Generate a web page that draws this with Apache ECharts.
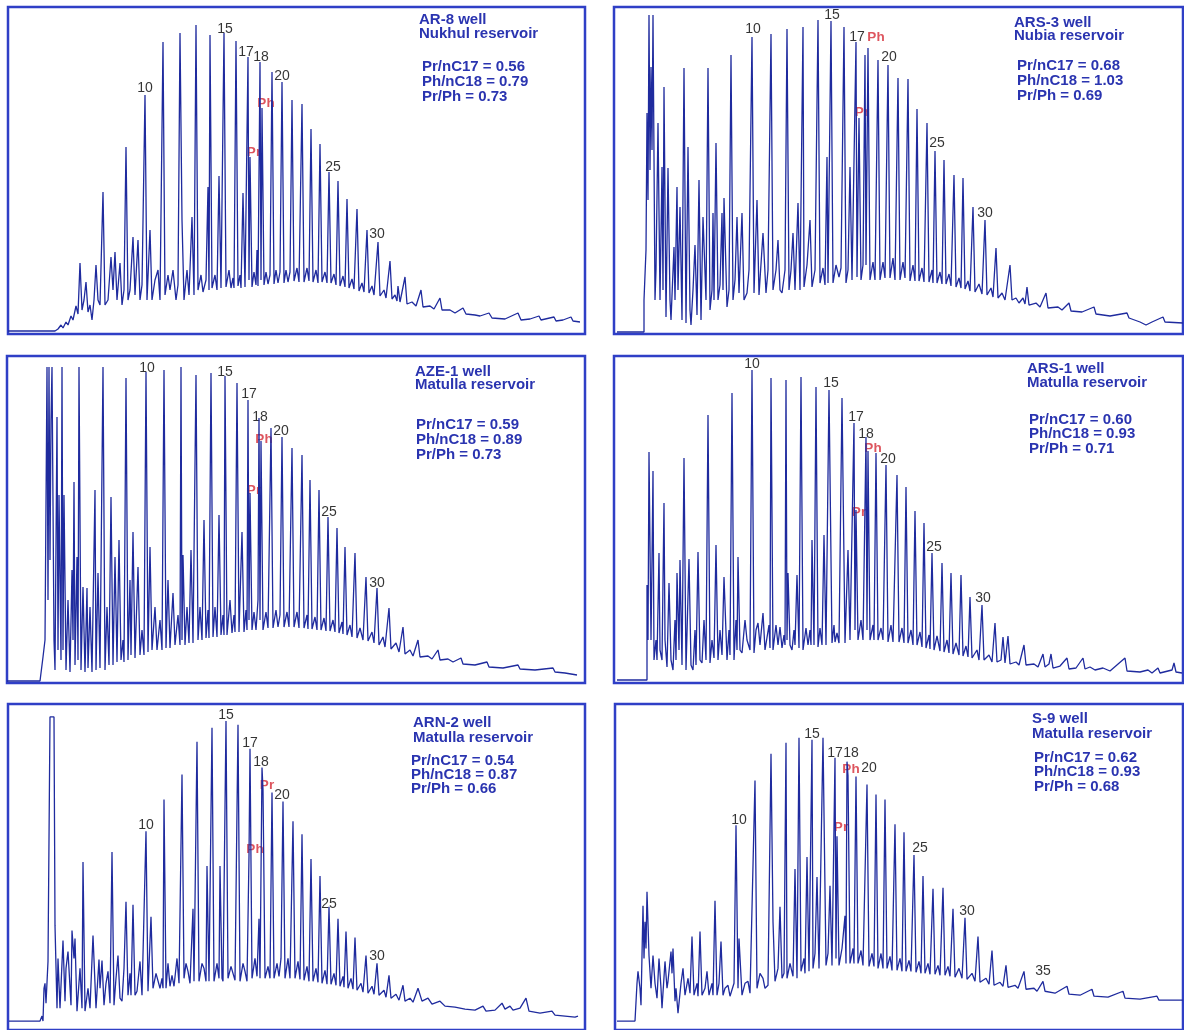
<!DOCTYPE html>
<html>
<head>
<meta charset="utf-8">
<script src="https://cdn.jsdelivr.net/npm/echarts@6/dist/echarts.min.js"></script>
<style>
html,body{margin:0;padding:0;background:#fff;}
#chart{width:1184px;height:1030px;}
</style>
</head>
<body>
<div id="chart"></div>
<script>
// Chromatogram traces: [retention (scaled units), detector response (scaled units)]
const ar8Trace = [[0,3],[47,3],[50,5],[53,9],[55,6],[58,12],[60,9],[63,18],[65,14],[68,28],[70,20],[72,71],[74,24],[76,34],[78,52],[80,22],[82,29],[84,14],[86,34],[88,69],[90,34],[92,29],[95,142],[97,29],[100,34],[103,77],[105,44],[107,82],[109,34],[112,71],[114,29],[116,44],[118,187],[120,34],[122,44],[125,97],[127,39],[130,94],[132,34],[134,49],[137,239],[139,34],[142,104],[144,34],[147,54],[150,64],[152,34],[155,292],[157,39],[160,59],[162,44],[165,64],[168,34],[170,49],[172,301],[174,114],[176,34],[179,64],[181,39],[184,117],[186,39],[188,309],[190,44],[193,59],[195,42],[198,54],[200,147],[201,44],[202,299],[204,46],[207,59],[209,44],[211,158],[213,46],[216,301],[218,47],[221,64],[223,46],[225,56],[226,46],[228,293],[230,48],[232,59],[233,46],[235,141],[237,47],[240,277],[241,54],[242,177],[244,47],[246,62],[248,49],[249,84],[250,48],[252,272],[253,54],[254,226],[256,49],[258,62],[260,50],[262,59],[264,262],[266,50],[268,64],[270,51],[272,62],[274,252],[276,51],[278,64],[280,52],[282,62],[284,234],[286,53],[289,66],[291,52],[294,230],[296,52],[299,66],[301,53],[303,205],[305,52],[308,64],[310,51],[312,190],[314,52],[317,62],[319,51],[321,162],[323,51],[326,60],[328,49],[330,153],[332,48],[335,58],[337,47],[339,135],[341,46],[344,55],[346,45],[349,125],[351,43],[354,51],[356,42],[359,104],[361,41],[364,48],[366,39],[370,92],[372,38],[376,44],[378,36],[382,73],[384,35],[387,39],[389,33],[390,48],[392,32],[397,57],[399,30],[404,32],[408,28],[413,44],[415,27],[422,28],[426,25],[432,36],[434,24],[442,24],[447,21],[455,26],[458,20],[467,19],[472,18],[481,21],[484,16],[497,15],[510,21],[513,14],[522,15],[531,18],[533,14],[546,17],[548,13],[555,14],[563,17],[565,13],[572,12]];

const ars3Trace = [[3,2],[30,2],[30,34],[32,84],[33,221],[34,134],[35,319],[36,164],[37,267],[38,184],[39,319],[41,34],[42,64],[44,211],[46,34],[48,167],[49,44],[50,247],[52,17],[54,166],[56,34],[57,14],[60,87],[61,34],[63,147],[64,44],[66,127],[68,14],[70,266],[72,11],[74,187],[76,24],[77,9],[79,44],[81,89],[83,19],[85,154],[87,14],[89,117],[92,34],[94,266],[96,24],[98,44],[99,121],[100,34],[102,191],[104,34],[106,49],[108,121],[109,44],[110,136],[113,27],[115,44],[117,279],[119,34],[121,54],[123,117],[125,41],[128,121],[130,34],[133,41],[135,64],[138,297],[140,41],[143,134],[145,39],[146,37],[149,101],[152,41],[154,64],[157,300],[159,44],[162,64],[164,94],[166,44],[168,41],[171,64],[173,305],[175,44],[177,64],[179,101],[181,44],[184,131],[186,44],[189,307],[190,47],[193,69],[196,114],[198,47],[201,64],[204,314],[206,51],[209,66],[211,49],[213,177],[214,51],[217,313],[219,51],[222,69],[225,57],[227,66],[230,307],[232,51],[234,64],[236,167],[238,54],[242,292],[243,57],[245,216],[247,54],[249,69],[251,279],[252,69],[254,286],[256,54],[259,72],[261,54],[264,274],[266,54],[269,72],[271,56],[274,269],[276,56],[279,76],[281,54],[284,256],[286,54],[289,72],[291,56],[294,255],[296,53],[299,69],[301,53],[303,225],[305,53],[308,66],[310,52],[313,211],[315,52],[318,64],[319,51],[321,183],[323,51],[326,62],[328,50],[330,174],[332,50],[335,60],[337,48],[340,159],[342,47],[345,56],[347,46],[349,156],[351,45],[354,53],[356,43],[359,127],[361,42],[365,50],[368,40],[371,114],[373,39],[377,46],[379,37],[382,86],[384,36],[388,41],[391,34],[396,69],[398,34],[402,36],[405,31],[409,36],[411,30],[413,47],[415,29],[422,31],[426,27],[432,41],[434,26],[444,27],[448,24],[455,31],[457,23],[468,22],[480,27],[482,20],[496,18],[513,21],[515,16],[526,12],[532,9],[538,12],[549,17],[551,12],[569,11]];

const aze1Trace = [[0,2],[33,2],[36,26],[38,43],[40,316],[41,83],[42,316],[43,123],[44,263],[45,316],[47,43],[48,13],[50,266],[51,33],[52,188],[54,23],[55,316],[56,33],[57,188],[59,13],[61,83],[63,11],[65,113],[66,43],[67,201],[68,18],[70,126],[71,23],[72,316],[74,13],[76,96],[78,11],[80,95],[81,15],[83,76],[85,11],[88,193],[89,13],[91,110],[93,15],[96,316],[98,13],[100,76],[102,18],[104,186],[106,18],[108,126],[110,21],[112,143],[114,23],[116,43],[117,21],[119,305],[121,23],[123,103],[124,28],[126,151],[128,25],[131,116],[133,28],[135,53],[137,28],[139,311],[141,31],[143,136],[145,33],[148,76],[150,33],[153,63],[155,33],[157,313],[159,35],[161,103],[163,35],[166,90],[168,38],[171,68],[173,38],[174,316],[175,43],[176,128],[178,38],[180,76],[182,40],[184,133],[186,40],[189,308],[191,43],[193,76],[195,43],[197,163],[199,45],[201,73],[202,45],[204,310],[206,46],[208,76],[210,46],[212,168],[214,48],[216,68],[217,48],[218,307],[220,48],[223,83],[225,50],[227,68],[228,51],[230,300],[232,51],[235,151],[237,51],[239,73],[240,53],[241,283],[242,63],[243,190],[245,53],[247,71],[249,53],[251,83],[252,265],[253,63],[254,242],[256,53],[259,71],[261,55],[264,255],[266,55],[269,73],[271,56],[273,68],[275,246],[277,56],[280,71],[282,56],[285,235],[287,56],[290,71],[292,55],[295,228],[297,55],[300,68],[301,54],[303,203],[305,54],[308,66],[310,53],[312,193],[314,53],[317,65],[319,52],[321,166],[323,52],[326,63],[328,51],[330,155],[332,50],[335,61],[336,49],[338,136],[340,48],[343,58],[345,46],[348,130],[350,45],[353,55],[356,43],[359,106],[361,42],[365,51],[367,40],[370,95],[372,38],[376,46],[378,36],[382,75],[384,34],[389,40],[392,31],[396,56],[398,29],[403,33],[406,27],[411,43],[413,26],[421,27],[425,24],[431,33],[433,23],[441,24],[446,21],[454,25],[456,19],[468,18],[480,21],[482,16],[496,15],[511,18],[513,14],[528,13],[546,15],[548,11],[558,10],[570,8]];

const ars1Trace = [[3,3],[33,3],[33,98],[34,43],[35,231],[37,43],[38,123],[39,212],[40,23],[42,43],[43,23],[45,130],[46,33],[48,23],[50,180],[51,43],[53,16],[55,100],[57,23],[59,13],[61,63],[62,23],[63,110],[65,33],[66,123],[68,18],[70,225],[72,13],[75,124],[77,18],[79,13],[81,53],[82,18],[84,131],[86,23],[88,20],[90,63],[92,23],[94,268],[96,20],[98,43],[100,25],[102,138],[104,23],[106,53],[108,28],[110,106],[113,23],[115,53],[116,28],[118,290],[120,23],[122,63],[123,33],[124,126],[126,33],[128,30],[131,63],[133,43],[136,33],[138,313],[140,30],[142,53],[144,60],[146,38],[149,70],[151,33],[153,33],[155,58],[156,35],[157,305],[159,33],[162,58],[164,38],[166,56],[168,35],[170,48],[171,38],[172,303],[173,43],[174,110],[176,38],[178,33],[180,53],[181,38],[183,108],[185,35],[187,306],[189,33],[192,55],[194,38],[196,53],[197,38],[198,143],[200,38],[202,296],[204,36],[206,55],[208,38],[210,148],[212,38],[215,293],[218,40],[220,58],[221,41],[223,50],[225,40],[228,285],[231,40],[234,133],[236,43],[237,43],[240,260],[241,53],[242,173],[244,43],[247,63],[249,43],[252,246],[253,53],[254,232],[256,43],[259,58],[260,43],[262,230],[264,43],[267,55],[269,43],[272,218],[274,41],[277,58],[279,41],[283,208],[285,41],[288,55],[290,40],[292,196],[294,40],[297,53],[299,38],[301,172],[303,38],[306,51],[308,36],[310,160],[312,35],[315,48],[316,34],[318,130],[320,33],[323,47],[326,32],[328,120],[330,31],[333,43],[335,30],[337,110],[339,29],[342,40],[345,28],[347,108],[349,27],[352,37],[354,26],[356,86],[358,25],[363,33],[365,23],[368,78],[370,23],[375,28],[378,21],[381,60],[383,21],[387,23],[389,46],[391,20],[394,47],[396,19],[402,21],[405,18],[410,38],[412,18],[420,19],[424,16],[429,29],[431,16],[435,19],[437,29],[439,15],[446,17],[453,25],[455,14],[462,15],[469,25],[471,14],[476,16],[481,13],[489,15],[496,12],[511,25],[513,12],[526,11],[534,13],[538,10],[544,15],[546,10],[558,13],[560,20],[562,11],[568,10]];

const arn2Trace = [[1,9],[32,9],[33,11],[34,14],[35,9],[36,42],[37,47],[38,27],[40,69],[42,315],[46,315],[47,105],[49,22],[50,72],[52,22],[55,90],[57,29],[58,62],[60,79],[63,25],[64,100],[66,72],[67,92],[69,19],[72,62],[74,22],[75,169],[77,19],[80,42],[82,22],[85,95],[88,22],[91,71],[92,42],[94,70],[96,25],[98,47],[100,59],[102,27],[104,179],[106,25],[108,52],[110,75],[112,32],[114,29],[116,62],[118,129],[120,35],[122,57],[123,35],[125,126],[127,35],[129,39],[132,69],[134,35],[135,35],[138,200],[140,39],[143,114],[145,42],[148,57],[150,59],[152,42],[154,52],[155,42],[156,232],[158,42],[160,67],[162,44],[164,55],[166,44],[169,72],[171,47],[174,257],[176,52],[178,67],[180,59],[182,47],[185,122],[186,49],[189,290],[191,49],[194,67],[196,62],[198,49],[199,165],[201,49],[204,304],[206,49],[209,67],[211,52],[212,165],[214,52],[215,49],[218,311],[220,52],[223,64],[225,62],[227,50],[230,307],[232,49],[235,67],[237,59],[239,49],[241,175],[242,283],[244,52],[247,72],[249,54],[251,112],[252,52],[254,264],[255,242],[257,52],[260,64],[262,52],[264,239],[266,52],[269,67],[271,54],[273,72],[275,230],[277,52],[280,72],[282,52],[285,210],[287,52],[290,69],[292,51],[294,197],[296,50],[299,64],[301,49],[303,172],[305,49],[308,62],[310,48],[312,155],[314,47],[317,60],[319,46],[321,124],[323,46],[326,57],[328,45],[330,112],[332,44],[335,54],[336,43],[338,99],[340,42],[343,52],[345,41],[347,93],[349,40],[353,47],[355,38],[358,75],[360,37],[364,44],[366,36],[369,67],[371,35],[376,40],[378,33],[381,55],[383,32],[388,36],[391,30],[395,45],[397,29],[402,32],[405,28],[410,42],[412,42],[414,29],[420,32],[424,26],[432,29],[437,24],[447,23],[457,21],[467,20],[475,24],[478,19],[487,20],[494,27],[497,21],[502,24],[505,20],[512,22],[518,32],[521,19],[532,17],[544,19],[547,15],[557,14],[567,13],[570,14]];

const s9Trace = [[2,9],[20,9],[22,47],[23,59],[25,42],[26,25],[28,125],[29,72],[30,109],[31,82],[32,139],[34,75],[36,42],[38,75],[40,47],[42,32],[44,72],[46,42],[47,22],[50,69],[52,42],[53,49],[56,79],[57,57],[58,82],[60,29],[61,42],[63,17],[66,47],[68,62],[70,35],[73,52],[75,37],[77,94],[79,35],[82,47],[83,34],[85,99],[87,35],[90,42],[92,59],[94,35],[97,47],[98,35],[100,130],[102,35],[104,47],[106,89],[108,35],[110,42],[113,45],[115,34],[117,32],[119,47],[121,206],[123,42],[124,92],[127,35],[130,47],[133,49],[135,37],[137,39],[140,251],[142,42],[145,57],[148,52],[150,42],[153,45],[156,278],[158,109],[160,49],[163,62],[165,124],[167,52],[169,57],[171,289],[172,52],[175,67],[178,54],[180,162],[182,52],[184,294],[186,59],[189,72],[190,57],[192,174],[194,59],[197,292],[198,62],[200,77],[202,154],[204,62],[208,294],[211,65],[213,77],[215,145],[217,65],[220,274],[221,72],[222,195],[224,65],[227,82],[230,115],[231,67],[232,270],[233,256],[235,67],[238,82],[239,67],[241,255],[243,67],[246,80],[248,65],[252,247],[254,64],[257,77],[259,64],[261,237],[263,62],[266,77],[268,62],[270,232],[272,62],[275,74],[277,60],[280,207],[282,60],[285,72],[287,59],[289,199],[291,59],[294,70],[296,59],[299,176],[301,58],[304,69],[306,57],[308,155],[310,57],[313,67],[315,56],[318,142],[320,56],[323,65],[325,55],[328,143],[330,55],[333,64],[335,54],[338,122],[340,53],[344,62],[347,52],[350,113],[352,51],[357,57],[360,49],[363,94],[365,48],[371,52],[374,46],[377,80],[379,45],[385,48],[388,44],[391,65],[393,43],[400,45],[403,42],[409,59],[411,41],[419,42],[422,39],[428,49],[430,39],[440,37],[452,44],[454,36],[465,35],[477,41],[479,34],[493,33],[508,39],[510,32],[525,31],[542,34],[544,30],[568,30]];

// Peak labels: [text, retention, response]
const ar8Carbon = [['10',137,246],['15',217,305],['17',238,282],['18',253,277],['20',274,258],['25',325,167],['30',369,100]];
const ar8Iso = [['Pr',246,182],['Ph',258,231]];
const ars3Carbon = [['10',139,305],['15',218,319],['17',243,297],['20',275,277],['25',323,191],['30',371,121]];
const ars3Iso = [['Ph',262,297],['Pr',248,222]];
const aze1Carbon = [['10',140,315],['15',218,311],['17',242,289],['18',253,266],['20',274,252],['25',322,171],['30',370,100]];
const aze1Iso = [['Ph',257,244],['Pr',247,193]];
const ars1Carbon = [['10',138,319],['15',217,300],['17',242,266],['18',252,249],['20',274,224],['25',320,136],['30',369,85]];
const ars1Iso = [['Ph',259,235],['Pr',245,171]];
const arn2Carbon = [['10',138,206],['15',218,317],['17',242,289],['18',253,270],['20',274,236],['25',321,127],['30',369,74]];
const arn2Iso = [['Pr',259,246],['Ph',247,182]];
const s9Carbon = [['10',124,211],['15',197,298],['17',220,279],['18',236,279],['20',254,263],['25',305,183],['30',352,120],['35',428,59]];
const s9Iso = [['Ph',236,262],['Pr',226,204]];

// Annotation text
const ar8Info = ['AR-8 well','Nukhul reservoir'];
const ar8Ratios = ['Pr/nC17 = 0.56','Ph/nC18 = 0.79','Pr/Ph = 0.73'];
const ars3Info = ['ARS-3 well','Nubia reservoir'];
const ars3Ratios = ['Pr/nC17 = 0.68','Ph/nC18 = 1.03','Pr/Ph = 0.69'];
const aze1Info = ['AZE-1 well','Matulla reservoir'];
const aze1Ratios = ['Pr/nC17 = 0.59','Ph/nC18 = 0.89','Pr/Ph = 0.73'];
const ars1Info = ['ARS-1 well','Matulla reservoir'];
const ars1Ratios = ['Pr/nC17 = 0.60','Ph/nC18 = 0.93','Pr/Ph = 0.71'];
const arn2Info = ['ARN-2 well','Matulla reservoir'];
const arn2Ratios = ['Pr/nC17 = 0.54','Ph/nC18 = 0.87','Pr/Ph = 0.66'];
const s9Info = ['S-9 well','Matulla reservoir'];
const s9Ratios = ['Pr/nC17 = 0.62','Ph/nC18 = 0.93','Pr/Ph = 0.68'];

const panels = [
  {trace: ar8Trace, carbon: ar8Carbon, iso: ar8Iso, info: ar8Info, ratios: ar8Ratios,
   box: [8, 7, 577, 327], infoAt: [419, 12, 14], ratioAt: [422, 59, 15]},
  {trace: ars3Trace, carbon: ars3Carbon, iso: ars3Iso, info: ars3Info, ratios: ars3Ratios,
   box: [614, 7, 569, 327], infoAt: [1014, 15, 13.5], ratioAt: [1017, 58, 15]},
  {trace: aze1Trace, carbon: aze1Carbon, iso: aze1Iso, info: aze1Info, ratios: aze1Ratios,
   box: [7, 356, 578, 327], infoAt: [415, 364, 13], ratioAt: [416, 417, 15]},
  {trace: ars1Trace, carbon: ars1Carbon, iso: ars1Iso, info: ars1Info, ratios: ars1Ratios,
   box: [614, 356, 569, 327], infoAt: [1027, 361, 14], ratioAt: [1029, 412, 14.5]},
  {trace: arn2Trace, carbon: arn2Carbon, iso: arn2Iso, info: arn2Info, ratios: arn2Ratios,
   box: [8, 704, 577, 328], infoAt: [413, 715, 15.5], ratioAt: [411, 753, 14]},
  {trace: s9Trace, carbon: s9Carbon, iso: s9Iso, info: s9Info, ratios: s9Ratios,
   box: [615, 704, 568, 328], infoAt: [1032, 711, 15], ratioAt: [1034, 750, 14.5]}
];

const FONT = 'Arial, "Liberation Sans", sans-serif';
const BLUE_TEXT = '#2a34b0';
const option = {
  backgroundColor: '#ffffff',
  animation: false,
  grid: [], xAxis: [], yAxis: [], series: [], graphic: []
};

panels.forEach((p, i) => {
  const [l, t, w, h] = p.box;
  option.grid.push({left: l, top: t, width: w, height: h, show: true,
    borderColor: '#2f3fc6', borderWidth: 2.5, backgroundColor: 'transparent'});
  option.xAxis.push({type: 'value', gridIndex: i, min: 0, max: w, show: false});
  option.yAxis.push({type: 'value', gridIndex: i, min: 0, max: h, show: false});
  option.series.push({
    type: 'line', xAxisIndex: i, yAxisIndex: i, data: p.trace,
    symbol: 'none', showSymbol: false, silent: true, clip: true,
    lineStyle: {color: '#1f2b9e', width: 1.3}
  });
  const lbl = [];
  p.carbon.forEach(d => lbl.push({value: [d[1], d[2]],
    label: {formatter: d[0], color: '#000000', fontSize: 14, fontFamily: FONT}}));
  p.iso.forEach(d => lbl.push({value: [d[1], d[2]],
    label: {formatter: d[0], color: '#d42a36', fontSize: 13.5, fontWeight: 'bold', fontFamily: FONT}}));
  option.series.push({
    type: 'scatter', xAxisIndex: i, yAxisIndex: i, data: lbl, symbolSize: 0, silent: true,
    label: {show: true, position: 'inside', align: 'center', verticalAlign: 'middle',
            textBorderWidth: 0}
  });
  option.graphic.push({type: 'text', left: p.infoAt[0], top: p.infoAt[1], silent: true,
    style: {text: p.info.join('\n'), font: 'bold 15px ' + FONT, lineHeight: p.infoAt[2], fill: BLUE_TEXT}});
  option.graphic.push({type: 'text', left: p.ratioAt[0], top: p.ratioAt[1], silent: true,
    style: {text: p.ratios.join('\n'), font: 'bold 15px ' + FONT, lineHeight: p.ratioAt[2], fill: BLUE_TEXT}});
});

const chart = echarts.init(document.getElementById('chart'), null, {renderer: 'canvas'});
chart.setOption(option);
</script>
</body>
</html>
